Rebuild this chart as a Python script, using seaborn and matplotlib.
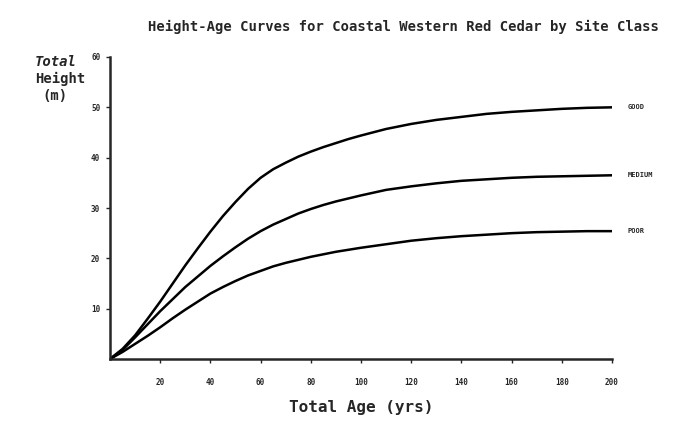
import matplotlib
matplotlib.use("Agg")
import matplotlib.pyplot as plt
import seaborn as sns
import pandas as pd

ages = [0, 5, 10, 15, 20, 25, 30, 35, 40, 45, 50, 55, 60, 65, 70, 75, 80, 85, 90, 95, 100,
        110, 120, 130, 140, 150, 160, 170, 180, 190, 200]
good = [0, 2.0, 4.7, 8.0, 11.4, 15.0, 18.6, 22.0, 25.3, 28.4, 31.2, 33.8, 36.0, 37.7, 39.0, 40.2,
        41.2, 42.1, 42.9, 43.7, 44.4, 45.7, 46.7, 47.5, 48.1, 48.7, 49.1, 49.4, 49.7, 49.9, 50.0]
medium = [0, 1.8, 4.3, 6.9, 9.5, 11.9, 14.3, 16.4, 18.5, 20.4, 22.2, 23.9, 25.4, 26.7, 27.8, 28.9,
          29.8, 30.6, 31.3, 31.9, 32.5, 33.6, 34.3, 34.9, 35.4, 35.7, 36.0, 36.2, 36.3, 36.4, 36.5]
poor = [0, 1.4, 3.0, 4.6, 6.3, 8.1, 9.8, 11.4, 13.0, 14.3, 15.5, 16.6, 17.5, 18.4, 19.1, 19.7,
        20.3, 20.8, 21.3, 21.7, 22.1, 22.8, 23.5, 24.0, 24.4, 24.7, 25.0, 25.2, 25.3, 25.4, 25.4]
classes = ["GOOD", "MEDIUM", "POOR"]
xticks = [20, 40, 60, 80, 100, 120, 140, 160, 180, 200]
yticks = [10, 20, 30, 40, 50, 60]

df = pd.DataFrame({
    "age": ages * 3,
    "height": good + medium + poor,
    "site": [c for c in classes for _ in ages],
})

sns.set_style("ticks")
plt.rcParams["font.family"] = ["DejaVu Sans Mono", "DejaVu Sans"]
plt.rcParams["font.weight"] = "bold"

fig = plt.figure(figsize=(6.74, 4.21), dpi=100)
ax = fig.add_axes([110 / 674, (421 - 359) / 421, 502 / 674, (359 - 57) / 421])

sns.lineplot(data=df, x="age", y="height", hue="site",
             palette={c: "black" for c in classes}, linewidth=1.8,
             legend=False, ax=ax)

ax.set_xlim(0, 200)
ax.set_ylim(0, 60)
ax.set_xticks(xticks)
ax.set_yticks(yticks)
ax.set_xticklabels([str(t) for t in xticks], fontsize=5.5, fontweight="bold")
ax.set_yticklabels([str(t) for t in yticks], fontsize=5.5, fontweight="bold")
ax.tick_params(axis="x", length=3, width=1, pad=11)
ax.tick_params(axis="y", length=3, width=1, pad=4)
for s in ["top", "right"]:
    ax.spines[s].set_visible(False)
for s in ["left", "bottom"]:
    ax.spines[s].set_linewidth(1.8)

ax.set_xlabel("Total Age (yrs)", fontsize=11.5, fontweight="bold", labelpad=9)
ax.set_ylabel("")

for c, vals in zip(classes, [good, medium, poor]):
    ax.annotate(c, xy=(ages[-1], vals[-1]), xytext=(11, 0), textcoords="offset points",
                fontsize=5, fontweight="bold", va="center", ha="left",
                annotation_clip=False)

fig.text(35 / 674, 1 - 62 / 421, "Total", fontsize=10, fontweight="bold",
         fontstyle="italic", va="center", ha="left")
fig.text(35 / 674, 1 - 79 / 421, "Height", fontsize=10, fontweight="bold",
         va="center", ha="left")
fig.text(42 / 674, 1 - 96 / 421, "(m)", fontsize=10, fontweight="bold",
         va="center", ha="left")

fig.text(403 / 674, 1 - 27 / 421,
         "Height-Age Curves for Coastal Western Red Cedar by Site Class",
         fontsize=10, fontweight="bold", ha="center", va="center")

fig.savefig("out.png", dpi=100, facecolor="white")
